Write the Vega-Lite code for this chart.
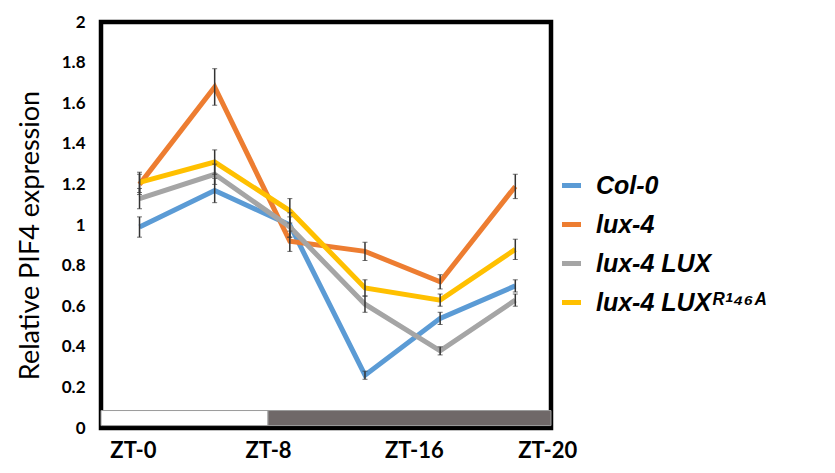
{
  "$schema": "https://vega.github.io/schema/vega-lite/v6.json",
  "width": 450,
  "height": 406,
  "autosize": {"type": "none"},
  "padding": {"left": 101, "top": 22, "right": 284, "bottom": 45},
  "background": "white",
  "config": {
    "view": {"stroke": "black", "strokeWidth": 4.5},
    "axis": {"grid": false, "domain": false, "ticks": false}
  },
  "datasets": {
    "expr": [
      {"t": 0, "g": "Col-0", "v": 0.99, "lo": 0.94, "hi": 1.04},
      {"t": 4, "g": "Col-0", "v": 1.17, "lo": 1.11, "hi": 1.23},
      {"t": 8, "g": "Col-0", "v": 1.0, "lo": 0.94, "hi": 1.06},
      {"t": 12, "g": "Col-0", "v": 0.26, "lo": 0.24, "hi": 0.28},
      {"t": 16, "g": "Col-0", "v": 0.54, "lo": 0.51, "hi": 0.57},
      {"t": 20, "g": "Col-0", "v": 0.7, "lo": 0.67, "hi": 0.73},
      {"t": 0, "g": "lux-4", "v": 1.2, "lo": 1.15, "hi": 1.25},
      {"t": 4, "g": "lux-4", "v": 1.68, "lo": 1.59, "hi": 1.77},
      {"t": 8, "g": "lux-4", "v": 0.92, "lo": 0.87, "hi": 0.97},
      {"t": 12, "g": "lux-4", "v": 0.87, "lo": 0.825, "hi": 0.915},
      {"t": 16, "g": "lux-4", "v": 0.72, "lo": 0.685, "hi": 0.755},
      {"t": 20, "g": "lux-4", "v": 1.19, "lo": 1.13, "hi": 1.25},
      {"t": 0, "g": "lux-4 LUX", "v": 1.13, "lo": 1.08, "hi": 1.18},
      {"t": 4, "g": "lux-4 LUX", "v": 1.25, "lo": 1.2, "hi": 1.3},
      {"t": 8, "g": "lux-4 LUX", "v": 0.99, "lo": 0.94, "hi": 1.04},
      {"t": 12, "g": "lux-4 LUX", "v": 0.61, "lo": 0.57, "hi": 0.65},
      {"t": 16, "g": "lux-4 LUX", "v": 0.38, "lo": 0.36, "hi": 0.4},
      {"t": 20, "g": "lux-4 LUX", "v": 0.63, "lo": 0.6, "hi": 0.66},
      {"t": 0, "g": "lux-4 LUXᴿ¹⁴⁶ᴬ", "v": 1.21, "lo": 1.16, "hi": 1.26},
      {"t": 4, "g": "lux-4 LUXᴿ¹⁴⁶ᴬ", "v": 1.31, "lo": 1.25, "hi": 1.37},
      {"t": 8, "g": "lux-4 LUXᴿ¹⁴⁶ᴬ", "v": 1.07, "lo": 1.01, "hi": 1.13},
      {"t": 12, "g": "lux-4 LUXᴿ¹⁴⁶ᴬ", "v": 0.69, "lo": 0.65, "hi": 0.73},
      {"t": 16, "g": "lux-4 LUXᴿ¹⁴⁶ᴬ", "v": 0.63, "lo": 0.6, "hi": 0.66},
      {"t": 20, "g": "lux-4 LUXᴿ¹⁴⁶ᴬ", "v": 0.88, "lo": 0.83, "hi": 0.93}
    ],
    "period": [
      {"start": -2.05, "end": 6.84, "phase": "light"},
      {"start": 6.84, "end": 21.9, "phase": "dark"}
    ]
  },
  "layer": [
    {
      "data": {"name": "period"},
      "mark": {"type": "rect", "stroke": "#9a9a9a", "strokeWidth": 1},
      "encoding": {
        "x": {"field": "start", "type": "quantitative", "scale": {"domain": [-2.05, 21.9], "nice": false, "zero": false}},
        "x2": {"field": "end"},
        "y": {"datum": 0.012, "type": "quantitative"},
        "y2": {"datum": 0.086},
        "fill": {"field": "phase", "type": "nominal", "scale": {"domain": ["light", "dark"], "range": ["#ffffff", "#6f6868"]}, "legend": null}
      }
    },
    {
      "data": {"name": "expr"},
      "mark": {"type": "line", "strokeWidth": 5, "strokeJoin": "miter"},
      "encoding": {
        "x": {
          "field": "t", "type": "quantitative",
          "scale": {"domain": [-2.05, 21.9], "nice": false, "zero": false},
          "axis": {
            "title": null,
            "values": [-0.35, 6.84, 14.6, 21.7],
            "labelExpr": "datum.value < 3 ? 'ZT-0' : datum.value < 10 ? 'ZT-8' : datum.value < 18 ? 'ZT-16' : 'ZT-20'",
            "labelFont": "Lato", "labelFontWeight": "bold", "labelFontSize": 22, "labelColor": "black",
            "labelPadding": 12, "labelOverlap": false, "labelBound": false, "labelFlush": false
          }
        },
        "y": {
          "field": "v", "type": "quantitative", "title": "Relative PIF4 expression",
          "scale": {"domain": [0, 2], "nice": false},
          "axis": {
            "title": "Relative PIF4 expression",
            "titleFont": "Lato", "titleFontWeight": "normal", "titleFontSize": 27, "titleColor": "black",
            "titlePadding": 17, "titleY": 213,
            "values": [0, 0.2, 0.4, 0.6, 0.8, 1, 1.2, 1.4, 1.6, 1.8, 2],
            "format": "~g",
            "labelFont": "Lato", "labelFontWeight": "bold", "labelFontSize": 17, "labelColor": "black",
            "labelPadding": 16
          }
        },
        "color": {
          "field": "g", "type": "nominal",
          "scale": {"domain": ["Col-0", "lux-4", "lux-4 LUX", "lux-4 LUXᴿ¹⁴⁶ᴬ"], "range": ["#5b9bd5", "#ed7d31", "#a5a5a5", "#ffc000"]},
          "legend": {
            "title": null, "orient": "none", "legendX": 458, "legendY": 151,
            "symbolType": "stroke", "symbolStrokeWidth": 5, "symbolSize": 360,
            "labelFont": "Liberation Sans", "labelFontStyle": "italic", "labelFontWeight": "bold",
            "labelFontSize": 25, "labelColor": "black", "labelOffset": 12, "rowPadding": 13,
            "labelLimit": 400
          }
        }
      }
    },
    {
      "data": {"name": "expr"},
      "mark": {"type": "errorbar", "ticks": {"size": 5, "color": "#333333", "strokeWidth": 1.5}, "rule": {"color": "#333333", "strokeWidth": 1.5}},
      "encoding": {
        "x": {"field": "t", "type": "quantitative"},
        "y": {"field": "lo", "type": "quantitative", "title": "Relative PIF4 expression"},
        "y2": {"field": "hi"}
      }
    }
  ]
}
